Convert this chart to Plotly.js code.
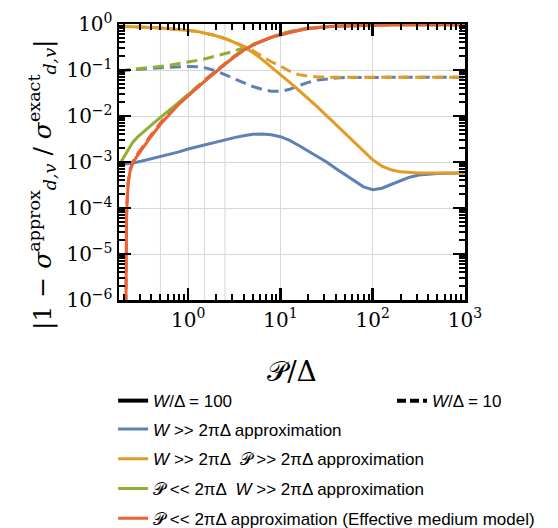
<!DOCTYPE html>
<html>
<head>
<meta charset="utf-8">
<script src="https://cdn.plot.ly/plotly-3.0.1.min.js"></script>
<style>html,body{margin:0;padding:0;background:#fff;}#chart{width:558px;height:528px;}</style>
</head>
<body>
<div id="chart"></div>
<script>
// P/Δ sample positions (shared grid)
const xGrid = [0.178,0.2,0.251,0.316,0.398,0.501,0.631,0.794,1,1.26,1.58,2.0,2.51,3.16,3.98,5.01,6.31,7.94,10,12.6,15.8,20,25.1,31.6,39.8,50.1,63.1,79.4,100,126,158,200,251,316,398,501,631,794,1000];
// P/Δ positions for the P << 2πΔ, W >> 2πΔ curve (denser at small P/Δ)
const xGreen = [0.178,0.1905,0.2,0.2138,0.2291,0.251,0.2818,0.316,0.3548,0.398,0.501,0.631,0.794,1,1.26,1.58,2.0,2.51,3.16,3.98,5.01,6.31,7.94,10,12.6,15.8,20,25.1,31.6,39.8,50.1,63.1,79.4,100,126,158,200,251,316,398,501,631,794,1000];
// P/Δ positions for the effective medium model (sharp zero crossing)
const xRed = [0.2109,0.2118,0.2128,0.2148,0.2178,0.2239,0.2344,0.2512,0.2818,0.316,0.398,0.501,0.631,0.794,1,1.26,1.58,2.0,2.51,3.16,3.98,5.01,6.31,7.94,10,12.6,15.8,20,25.1,31.6,39.8,50.1,63.1,79.4,100,126,158,200,251,316,398,501,631,794,1000];

// W/Δ = 100 (solid)
const blue100 = [8.71e-4,8.91e-4,9.55e-4,1.05e-3,1.17e-3,1.29e-3,1.45e-3,1.66e-3,1.91e-3,2.14e-3,2.45e-3,2.75e-3,3.09e-3,3.39e-3,3.72e-3,4.03e-3,4.07e-3,3.89e-3,3.55e-3,2.95e-3,2.29e-3,1.74e-3,1.32e-3,1.0e-3,7.24e-4,5.25e-4,3.80e-4,2.88e-4,2.51e-4,2.69e-4,3.24e-4,3.98e-4,4.68e-4,5.19e-4,5.50e-4,5.62e-4,5.69e-4,5.75e-4,5.75e-4];
const orange100 = [0.891,0.887,0.875,0.859,0.841,0.818,0.794,0.762,0.724,0.684,0.624,0.556,0.479,0.398,0.316,0.240,0.170,0.117,0.0794,0.0537,0.0363,0.0240,0.0158,0.0102,6.61e-3,4.27e-3,2.75e-3,1.74e-3,1.12e-3,8.13e-4,6.76e-4,6.10e-4,5.82e-4,5.75e-4,5.75e-4,5.75e-4,5.75e-4,5.75e-4,5.75e-4];
const green100 = [8.51e-4,1.07e-3,1.29e-3,1.66e-3,2.09e-3,2.69e-3,3.47e-3,4.27e-3,5.13e-3,6.31e-3,9.33e-3,0.0136,0.0198,0.0282,0.0417,0.0617,0.0912,0.135,0.195,0.269,0.347,0.427,0.513,0.582,0.661,0.733,0.794,0.841,0.871,0.895,0.912,0.927,0.940,0.951,0.955,0.958,0.960,0.962,0.963,0.964,0.965,0.966,0.967,0.968];
const red100 = [3.16e-7,5.0e-6,2.0e-5,6.3e-5,1.41e-4,3.55e-4,6.31e-4,9.55e-4,1.38e-3,1.91e-3,3.63e-3,6.61e-3,0.011,0.0182,0.0275,0.0417,0.0617,0.0912,0.135,0.195,0.269,0.347,0.427,0.513,0.582,0.661,0.733,0.794,0.841,0.871,0.895,0.912,0.927,0.940,0.951,0.955,0.958,0.960,0.962,0.963,0.964,0.965,0.966,0.967,0.968];

// W/Δ = 10 (dashed)
const blue10 = [0.0955,0.0977,0.101,0.105,0.108,0.112,0.115,0.117,0.119,0.117,0.110,0.0955,0.0794,0.0646,0.0525,0.0437,0.0380,0.0347,0.0343,0.0380,0.0457,0.0537,0.0603,0.0646,0.0668,0.0684,0.0692,0.0692,0.0692,0.0692,0.0692,0.0692,0.0692,0.0692,0.0692,0.0692,0.0692,0.0692,0.0692];
const orange10 = [0.891,0.887,0.875,0.859,0.841,0.818,0.794,0.762,0.724,0.686,0.628,0.562,0.486,0.407,0.331,0.263,0.200,0.151,0.122,0.094,0.0794,0.0733,0.0708,0.0692,0.0692,0.0692,0.0692,0.0692,0.0692,0.0692,0.0692,0.0692,0.0692,0.0692,0.0692,0.0692,0.0692,0.0692,0.0692];
const green10 = [0.0955,0.0977,0.102,0.107,0.112,0.119,0.127,0.138,0.148,0.162,0.178,0.200,0.224,0.257,0.302,0.363,0.437,0.525,0.610,0.692,0.759,0.804,0.841,0.871,0.895,0.912,0.927,0.940,0.951,0.955,0.958,0.960,0.962,0.963,0.964,0.965,0.966,0.967,0.968];
const red10 = [3.16e-7,5.0e-6,2.1e-5,6.8e-5,1.52e-4,3.8e-4,6.8e-4,1.03e-3,1.49e-3,2.06e-3,3.92e-3,7.1e-3,0.0118,0.0195,0.0295,0.0445,0.0655,0.096,0.14,0.2,0.269,0.347,0.427,0.513,0.582,0.661,0.733,0.794,0.841,0.871,0.895,0.912,0.927,0.940,0.951,0.955,0.958,0.960,0.962,0.963,0.964,0.965,0.966,0.967,0.968];

const seriesNames = [
  '<i>W</i> >> 2πΔ approximation',
  '<i>W</i> >> 2πΔ  𝒫 >> 2πΔ approximation',
  '𝒫 << 2πΔ  <i>W</i> >> 2πΔ approximation',
  '𝒫 << 2πΔ approximation (Effective medium model)'
];
const styleNames = ['<i>W</i>/Δ = 100', '<i>W</i>/Δ = 10'];
const xTitle = '𝒫/Δ';
const yTitle = '|1 − <i>σ</i><sup>approx</sup><sub><i>d,v</i></sub> / <i>σ</i><sup>exact</sup><sub><i>d,v</i></sub>|';

const yTickVals = [1e-6,1e-5,1e-4,1e-3,1e-2,1e-1,1];
const yTickText = ['10<sup>−6</sup>','10<sup>−5</sup>','10<sup>−4</sup>','10<sup>−3</sup>','10<sup>−2</sup>','10<sup>−1</sup>','10<sup>0</sup>'];
const xTickVals = [1,10,100,1000];
const xTickText = ['10<sup>0</sup>','10<sup>1</sup>','10<sup>2</sup>','10<sup>3</sup>'];
const halfDecadeGrid = [-0.5,0.5,1.5,2.5];

const colors = ['#5E81B5','#E19C24','#8FB032','#EB6235'];
const dashStyle = '11px,6px';
const LW = 3;

function tr(x, y, color, dash, name, show) {
  return {x: x, y: y, type: 'scatter', mode: 'lines', name: name || '',
    showlegend: !!show, legend: 'legend2', legendgroup: name || undefined,
    line: {color: color, width: LW, dash: dash || 'solid'},
    hoverinfo: 'skip'};
}

const traces = [
  tr(xGrid, blue10, colors[0], dashStyle),
  tr(xGrid, orange10, colors[1], dashStyle),
  tr(xGrid, green10, colors[2], dashStyle),
  tr(xRed, red10, colors[3], dashStyle),
  tr(xGrid, blue100, colors[0], 'solid', seriesNames[0], true),
  tr(xGrid, orange100, colors[1], 'solid', seriesNames[1], true),
  tr(xGreen, green100, colors[2], 'solid', seriesNames[2], true),
  tr(xRed, red100, colors[3], 'solid', seriesNames[3], true),
  {x: [null], y: [null], type: 'scatter', mode: 'lines', name: styleNames[0], legend: 'legend', showlegend: true,
   line: {color: '#000', width: 4}},
  {x: [null], y: [null], type: 'scatter', mode: 'lines', name: styleNames[1], legend: 'legend3', showlegend: true,
   line: {color: '#000', width: 4, dash: '9px,4px'}}
];

const serif = 'DejaVu Serif, Liberation Serif, serif';
const sans = 'Liberation Sans, Arial, sans-serif';
const legFont = {family: sans, size: 17, color: '#000'};

const axisCommon = {
  type: 'log', showline: true, linecolor: '#000', linewidth: 2.5, mirror: 'allticks',
  ticks: 'inside', ticklen: 12, tickwidth: 2.5, tickcolor: '#000',
  showgrid: true, gridcolor: '#d8d8d8', gridwidth: 1, zeroline: false,
  tickfont: {family: serif, size: 20, color: '#000'},
  minor: {ticks: 'inside', ticklen: 6, tickwidth: 2, tickcolor: '#000', showgrid: false, dtick: 'D1'}
};

const layout = {
  width: 558, height: 528,
  margin: {l: 119, r: 93, t: 24, b: 228, autoexpand: false},
  paper_bgcolor: '#fff', plot_bgcolor: '#fff',
  showlegend: true,
  xaxis: Object.assign({}, axisCommon, {
    range: [-0.75, 3], tickvals: xTickVals, ticktext: xTickText,
    title: {text: xTitle, font: {family: serif, size: 28, color: '#000'}, standoff: 31}
  }),
  yaxis: Object.assign({}, axisCommon, {
    range: [-6, 0], tickvals: yTickVals, ticktext: yTickText
  }),
  annotations: [{
    text: yTitle, textangle: -90, xref: 'paper', yref: 'paper',
    x: (42 - 119) / 346, y: (300 - 185) / 276, xanchor: 'center', yanchor: 'middle',
    showarrow: false, font: {family: serif, size: 25, color: '#000'}
  }],
  shapes: halfDecadeGrid.map(v => ({type: 'line', xref: 'x', yref: 'paper', x0: v, x1: v, y0: 0, y1: 1,
    line: {color: '#d8d8d8', width: 1}, layer: 'below'})),
  legend: {orientation: 'v', x: -0.017, xanchor: 'left', y: -0.301, yanchor: 'top',
    font: legFont, bgcolor: 'rgba(0,0,0,0)'},
  legend3: {orientation: 'v', x: 0.789, xanchor: 'left', y: -0.301, yanchor: 'top',
    font: legFont, bgcolor: 'rgba(0,0,0,0)'},
  legend2: {orientation: 'v', x: -0.017, xanchor: 'left', y: -0.404, yanchor: 'top',
    font: legFont, bgcolor: 'rgba(0,0,0,0)', traceorder: 'grouped', tracegroupgap: 4.6}
};

Plotly.newPlot('chart', traces, layout, {displayModeBar: false, staticPlot: true});
</script>
</body>
</html>
